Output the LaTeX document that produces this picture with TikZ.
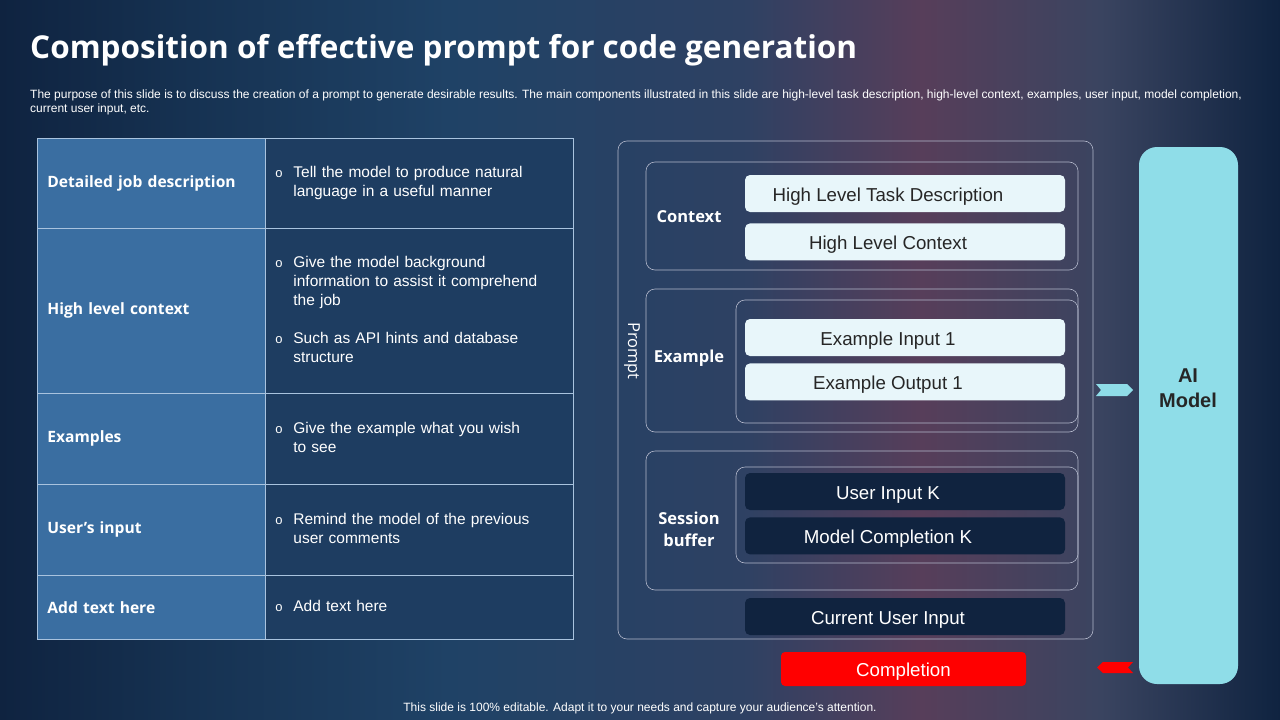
\documentclass[tikz,border=0pt]{standalone}
\usepackage{fontspec}
\setmainfont{Liberation Sans}
\newfontfamily\headfont{Open Sans}
\usepackage{xcolor}
\usepackage{tikz}
\usetikzlibrary{positioning}

\definecolor{bgedge}{HTML}{0F2340}
\definecolor{bgdeep}{HTML}{163252}
\definecolor{bgblue}{HTML}{1F4266}
\definecolor{bgdusk}{HTML}{2E4163}
\definecolor{bgmauve}{HTML}{573E5A}
\definecolor{bgslate}{HTML}{3A4460}
\definecolor{headblue}{HTML}{3A6EA1}
\definecolor{bodyblue}{HTML}{1E3D61}
\definecolor{gridline}{HTML}{A9C3DE}
\definecolor{frameline}{HTML}{B4B9CC}
\definecolor{paleblue}{HTML}{E8F6FA}
\definecolor{inkgray}{HTML}{262626}
\definecolor{deepnavy}{HTML}{10233F}
\definecolor{aicyan}{HTML}{8FDDE8}
\definecolor{alertred}{HTML}{FF0000}

\pgfdeclarehorizontalshading{slidebg}{100bp}{color(0bp)=(bgedge); color(25bp)=(bgedge);
 color(32.5bp)=(bgdeep); color(42.5bp)=(bgblue); color(54bp)=(bgdusk); color(61bp)=(bgmauve);
 color(68bp)=(bgslate); color(75bp)=(bgedge); color(100bp)=(bgedge)}

\newcommand{\TitleFont}{\headfont\bfseries\fontsize{31.5}{36}\selectfont}
\newcommand{\NoteFont}{\fontsize{12}{14}\selectfont}
\newcommand{\LabelFont}{\headfont\bfseries\fontsize{15.6}{22}\selectfont}
\newcommand{\TagFont}{\headfont\bfseries\fontsize{16.5}{22}\selectfont}
\newcommand{\BodyFont}{\fontsize{15.5}{19}\selectfont}
\newcommand{\PillFont}{\fontsize{18.7}{22}\selectfont}
\newcommand{\AIFont}{\bfseries\fontsize{20}{25}\selectfont}
\newcommand{\Bul}{\makebox[10pt][l]{\fontsize{13}{13}\selectfont o}}
\newcommand{\BulletRows}[1]{\noindent\begin{tabular}{@{}l@{\hspace{8pt}}l@{}}#1\end{tabular}}

\begin{document}
\begin{tikzpicture}[x=1pt,y=-1pt,
  cellhead/.style={draw=gridline,line width=.8pt,fill=headblue,anchor=north west,
    inner xsep=10pt,text width=208pt,align=left,text=white,font=\LabelFont},
  cellbody/.style={draw=gridline,line width=.8pt,fill=bodyblue,anchor=north west,
    inner xsep=10pt,text width=288pt,align=left,text=white,font=\BodyFont},
  frame/.style={draw=frameline,line width=.6pt,rounded corners=9pt},
  grouptag/.style={text=white,font=\TagFont,align=center},
  pill/.style={rounded corners=5pt,fill=paleblue,text=inkgray,font=\PillFont,
    minimum width=320pt,minimum height=37pt,inner sep=0pt,text height=15.5pt,text depth=0pt,
    execute at end node=\hspace{34pt}},
  darkpill/.style={pill,fill=deepnavy,text=white}]
\shade[shading=slidebg] (0,0) rectangle (1280,720);
\useasboundingbox (0,0) rectangle (1280,720);

\node[anchor=west,text=white,font=\TitleFont,inner sep=0pt] (title) at (30,50)
  {Composition of effective prompt for code generation};
\node[anchor=west,text=white,font=\NoteFont,align=left,inner sep=0pt] (intro) at (30,102)
  {The purpose of this slide is to discuss the creation of a prompt to generate desirable results. The main components illustrated in this slide are high-level task description, high-level context, examples, user input, model completion,\\
  current user input, etc.};

\node[cellhead,minimum height=90pt] (job) at (37,138) {Detailed job description};
\node[cellbody,minimum height=90pt] (jobtxt) at (265,138)
  {\BulletRows{\Bul & Tell the model to produce natural\\ & language in a useful manner}};
\node[cellhead,minimum height=165pt] (ctx) at (37,228) {High level context};
\node[cellbody,minimum height=165pt] (ctxtxt) at (265,228)
  {\BulletRows{\Bul & Give the model background\\ & information to assist it comprehend\\ & the job\\[19pt]
   \Bul & Such as API hints and database\\ & structure}};
\node[cellhead,minimum height=91pt] (exm) at (37,393) {Examples};
\node[cellbody,minimum height=91pt] (exmtxt) at (265,393)
  {\BulletRows{\Bul & Give the example what you wish\\ & to see}};
\node[cellhead,minimum height=91pt] (usr) at (37,484) {User’s input};
\node[cellbody,minimum height=91pt] (usrtxt) at (265,484)
  {\BulletRows{\Bul & Remind the model of the previous\\ & user comments}};
\node[cellhead,minimum height=64pt] (add) at (37,575) {Add text here};
\node[cellbody,minimum height=64pt] (addtxt) at (265,575)
  {\BulletRows{\Bul & Add text here}};

\node[frame,minimum width=475pt,minimum height=498pt] (prompt) at (855.5,390) {};
\node[rotate=-90,text=white,font=\headfont\fontsize{16.5}{18}\selectfont] (prompttag) at (632,351) {Prompt};

\node[frame,minimum width=432pt,minimum height=108pt] (ctxgrp) at (862,216) {};
\node[grouptag] (ctxtag) at (689,217) {Context};
\node[pill] (task) at (905,193.5) {High Level Task Description};
\node[pill,below=11pt of task] (hlc) {High Level Context};

\node[frame,minimum width=432pt,minimum height=143pt] (exgrp) at (862,360.5) {};
\node[frame,minimum width=342pt,minimum height=123pt] (exinner) at (907,361.5) {};
\node[grouptag] (extag) at (689,358) {Example};
\node[pill] (exin) at (905,337.5) {Example Input 1};
\node[pill,below=7pt of exin] (exout) {Example Output 1};

\node[frame,minimum width=432pt,minimum height=139pt] (sesgrp) at (862,520.5) {};
\node[frame,minimum width=342pt,minimum height=96pt] (sesinner) at (907,515) {};
\node[grouptag] (sestag) at (689,529) {Session\\buffer};
\node[darkpill] (uink) at (905,491.5) {User Input K};
\node[darkpill,below=7pt of uink] (mck) {Model Completion K};
\node[darkpill] (cui) at (905,616.5) {Current User Input};

\node[rounded corners=4pt,fill=alertred,text=white,font=\PillFont,minimum width=245pt,
  minimum height=34pt,inner sep=0pt,text height=15.5pt,text depth=0pt] (done) at (903.5,669) {Completion};

\node[fill=aicyan,rounded corners=18pt,minimum width=99pt,minimum height=537pt] (ai) at (1188.5,415.5) {};
\node[text=inkgray,font=\AIFont,align=center] (aitag) at (1188,388) {AI\\Model};

\fill[aicyan] (1096,384) -- (1127,384) -- (1133,390) -- (1127,396) -- (1096,396) -- (1101,390) -- cycle;
\fill[alertred] (1097,667.5) -- (1103,662) -- (1133,662) -- (1128,667.5) -- (1133,673) -- (1103,673) -- cycle;

\node[text=white,font=\NoteFont] (footer) at (640,708)
  {This slide is 100\% editable. Adapt it to your needs and capture your audience's attention.};
\end{tikzpicture}
\end{document}
